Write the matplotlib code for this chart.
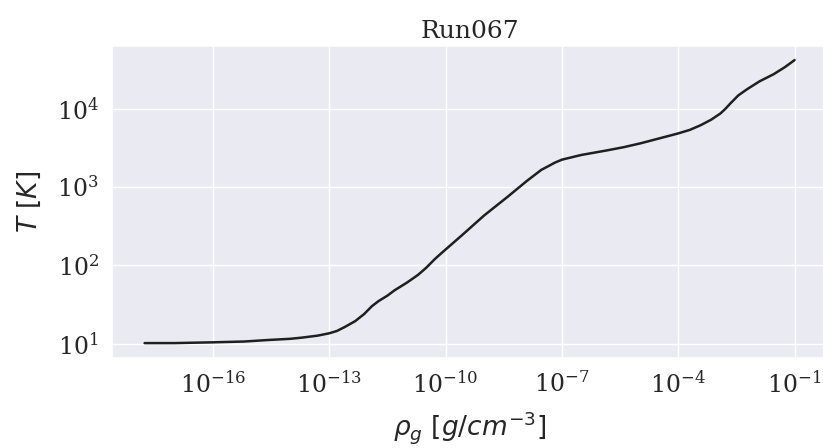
import matplotlib
matplotlib.use("Agg")
import matplotlib.pyplot as plt
import seaborn as sns
import numpy as np

sns.set_theme(style="darkgrid")
plt.rcParams["font.family"] = ["DejaVu Serif"]

# Gas density (log10 g/cm^3) and temperature (log10 K) along the collapse track
log_rho = [-17.76, -17.0, -16.0, -15.2, -14.56, -14.0, -13.7, -13.3, -13.0,
           -12.8, -12.6, -12.33, -12.1, -11.9, -11.73, -11.5, -11.31, -11.0,
           -10.71, -10.5, -10.28, -10.1, -9.59, -9.0, -8.39, -7.9, -7.53,
           -7.3, -7.19, -7.0, -6.5, -5.82, -5.4, -4.96, -4.5, -4.0, -3.7,
           -3.42, -3.15, -2.91, -2.78, -2.65, -2.45, -2.22, -1.9, -1.54,
           -1.25, -1.0]
log_T = [1.01, 1.01, 1.02, 1.03, 1.05, 1.065, 1.08, 1.105, 1.135,
         1.165, 1.215, 1.29, 1.38, 1.48, 1.545, 1.615, 1.685, 1.78,
         1.88, 1.97, 2.08, 2.16, 2.38, 2.64, 2.88, 3.08, 3.22,
         3.28, 3.31, 3.35, 3.41, 3.47, 3.51, 3.56, 3.62, 3.685, 3.73,
         3.79, 3.86, 3.94, 4.00, 4.07, 4.17, 4.25, 4.35, 4.44,
         4.53, 4.62]

rho = np.power(10.0, log_rho)
temp = np.power(10.0, log_T)

fig = plt.figure(figsize=(8.23, 4.48), dpi=100)
ax = fig.add_axes([0.1361, 0.2009, 0.8689, 0.6964])
ax.plot(rho, temp, color="#1f1f1f", lw=1.8)
ax.set_xscale("log")
ax.set_yscale("log")
ax.set_xlim(10 ** -18.6, 10 ** -0.16)
ax.set_ylim(10 ** 0.82, 10 ** 4.80)
ax.set_xticks([1e-16, 1e-13, 1e-10, 1e-7, 1e-4, 1e-1])
ax.set_yticks([1e1, 1e2, 1e3, 1e4])
ax.minorticks_off()
ax.tick_params(labelsize=17)
ax.set_xlabel(r"$\rho_g\ [g/cm^{-3}]$", fontsize=19, labelpad=8)
ax.set_ylabel(r"$T\ [K]$", fontsize=19, labelpad=10)
ax.set_title("Run067", fontsize=18)

fig.savefig("out.png", dpi=100)
